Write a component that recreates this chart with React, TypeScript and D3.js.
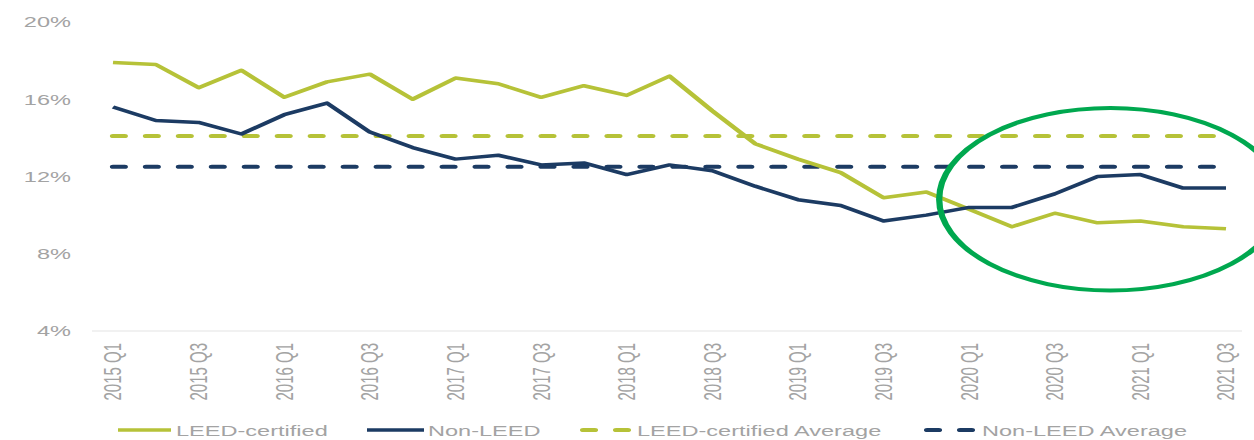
import * as d3 from "d3";

// the reference picture is stretched sideways, so the chart is drawn narrow and widened
const STRETCH = 1.57;
const WIDTH = 1254;
const HEIGHT = 440;
const VIEW_W = WIDTH / STRETCH;

const quarters = [
  "2015 Q1", "2015 Q2", "2015 Q3", "2015 Q4",
  "2016 Q1", "2016 Q2", "2016 Q3", "2016 Q4",
  "2017 Q1", "2017 Q2", "2017 Q3", "2017 Q4",
  "2018 Q1", "2018 Q2", "2018 Q3", "2018 Q4",
  "2019 Q1", "2019 Q2", "2019 Q3", "2019 Q4",
  "2020 Q1", "2020 Q2", "2020 Q3", "2020 Q4",
  "2021 Q1", "2021 Q2", "2021 Q3",
];

const leedCertified = [
  17.9, 17.8, 16.6, 17.5, 16.1, 16.9, 17.3, 16.0, 17.1, 16.8, 16.1, 16.7, 16.2,
  17.2, 15.4, 13.7, 12.9, 12.2, 10.9, 11.2, 10.3, 9.4, 10.1, 9.6, 9.7, 9.4, 9.3,
];

const nonLeed = [
  15.6, 14.9, 14.8, 14.2, 15.2, 15.8, 14.3, 13.5, 12.9, 13.1, 12.6, 12.7, 12.1,
  12.6, 12.3, 11.5, 10.8, 10.5, 9.7, 10.0, 10.4, 10.4, 11.1, 12.0, 12.1, 11.4,
  11.4,
];

const leedAverage = 14.1;
const nonLeedAverage = 12.5;

const yTicks = [4, 8, 12, 16, 20];
const xTickLabels = quarters.filter((_, i) => i % 2 === 0);

// highlight ellipse, in quarter-index and percent units
const highlight = { left: 19.3, right: 27.3, top: 15.55, bottom: 6.1 };

const GREEN = "#b6c238";
const NAVY = "#1c3b63";
const RING = "#00a84f";
const TEXT = "#a3a3a3";
const FONT = "'Liberation Sans', Arial, sans-serif";

const series = [
  { label: "LEED-certified", color: GREEN, dashed: false, values: leedCertified },
  { label: "Non-LEED", color: NAVY, dashed: false, values: nonLeed },
  { label: "LEED-certified Average", color: GREEN, dashed: true, values: quarters.map(() => leedAverage) },
  { label: "Non-LEED Average", color: NAVY, dashed: true, values: quarters.map(() => nonLeedAverage) },
];

// legend x positions (display px): symbol start, symbol end, text start
const legendPos = [
  [118, 171, 176],
  [367, 424, 428],
  [580, 632, 637],
  [924, 976, 982],
];

export default function App() {
  const s = (px: number) => px / STRETCH;

  const x = d3.scaleLinear().domain([0, quarters.length - 1]).range([s(113), s(1226)]);
  const y = d3.scaleLinear().domain([4, 20]).range([331, 22]);

  const line = d3
    .line<number>()
    .x((_, i) => x(i))
    .y((d) => y(d));

  const dash = "7.5 13.5";

  const cx = x((highlight.left + highlight.right) / 2);
  const rx = (x(highlight.right) - x(highlight.left)) / 2;
  const cy = y((highlight.top + highlight.bottom) / 2);
  const ry = (y(highlight.bottom) - y(highlight.top)) / 2;

  return (
    <svg
      width={WIDTH}
      height={HEIGHT}
      viewBox={`0 0 ${VIEW_W} ${HEIGHT}`}
      preserveAspectRatio="none"
      style={{ position: "absolute", left: 0, top: 0, display: "block", background: "#fff" }}
      fontFamily={FONT}
    >
      {/* baseline */}
      <line x1={s(92)} x2={s(1242)} y1={y(4)} y2={y(4)} stroke="#e4e4e4" strokeWidth={1} />

      {/* y tick labels */}
      {yTicks.map((t) => (
        <text key={t} x={s(71)} y={y(t)} dy="0.36em" textAnchor="end" fontSize={15} fill={TEXT}>
          {t}%
        </text>
      ))}

      {/* x tick labels */}
      {xTickLabels.map((q) => {
        const i = quarters.indexOf(q);
        return (
          <text
            key={q}
            transform={`translate(${x(i)},343) rotate(-90)`}
            dy="0.36em"
            textAnchor="end"
            fontSize={15}
            fill={TEXT}
          >
            {q}
          </text>
        );
      })}

      {/* series, averages drawn first */}
      {[series[2], series[3], series[0], series[1]].map((sr) => (
        <path
          key={sr.label}
          d={line(sr.values) ?? ""}
          fill="none"
          stroke={sr.color}
          strokeWidth={sr.dashed ? 4 : 3.5}
          strokeDasharray={sr.dashed ? dash : undefined}
          strokeLinecap={sr.dashed ? "round" : "butt"}
          strokeLinejoin="round"
        />
      ))}

      {/* highlight ring */}
      <ellipse cx={cx} cy={cy} rx={rx} ry={ry} fill="none" stroke={RING} strokeWidth={4} />

      {/* legend */}
      {series.map((sr, k) => {
        const [a, b, t] = legendPos[k];
        return (
          <g key={sr.label}>
            <line
              x1={s(a) + (sr.dashed ? 2 : 0)}
              x2={s(b) - (sr.dashed ? 2 : 0)}
              y1={430}
              y2={430}
              stroke={sr.color}
              strokeWidth={sr.dashed ? 4 : 3.5}
              strokeDasharray={sr.dashed ? dash : undefined}
              strokeLinecap={sr.dashed ? "round" : "butt"}
            />
            <text x={s(t)} y={436} fontSize={15} fill={TEXT}>
              {sr.label}
            </text>
          </g>
        );
      })}
    </svg>
  );
}
